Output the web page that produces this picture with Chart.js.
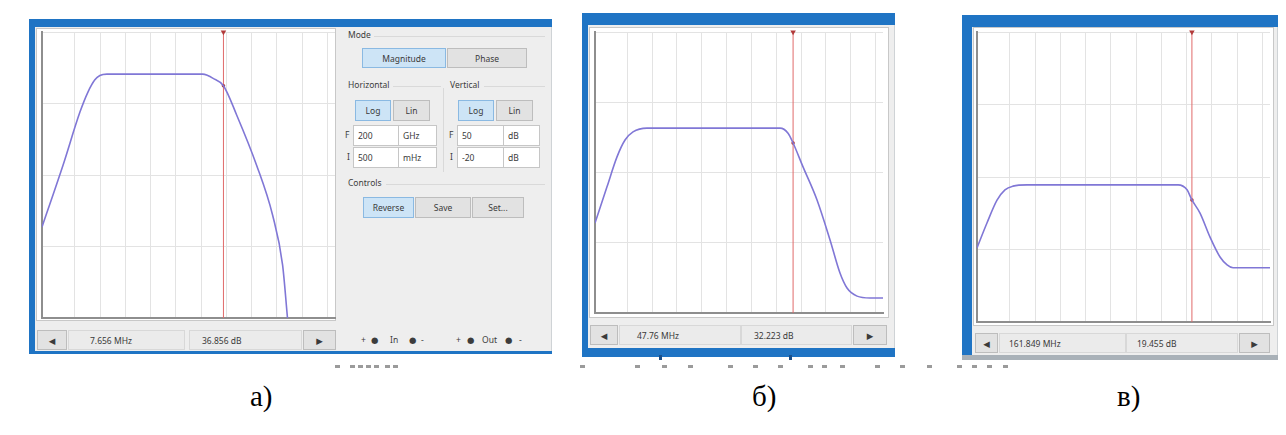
<!DOCTYPE html>
<html>
<head>
<meta charset="utf-8">
<script src="https://cdn.jsdelivr.net/npm/chart.js"></script>
<style>
  body { margin: 0; width: 1286px; height: 435px; background: #fff; position: relative; overflow: hidden; font-family: "Noto Sans", "DejaVu Sans", sans-serif; }
  .box { position: absolute; box-sizing: border-box; }
  .frame { background: #eeeeee; border-right: 1px solid #cfd3d6; }
  .blue { background: #1f74c4; }
  .plot { background: #fff; border: 1px solid #c8c8c8; }
  canvas { position: absolute; }
  .t { position: absolute; font-size: 8.5px; color: #3c3c3c; white-space: nowrap; line-height: 1; }
  .btn { position: absolute; box-sizing: border-box; border: 1px solid #bdbdbd; background: #e2e2e2; font-size: 8.5px; color: #3a3a3a; display: flex; align-items: center; justify-content: center; }
  .btn.on { background: #cde4f6; border-color: #8ab9e2; }
  .inp { position: absolute; box-sizing: border-box; border: 1px solid #c6c6c6; background: #fff; font-size: 8.5px; color: #3a3a3a; display: flex; align-items: center; padding-left: 4px; }
  .fld { position: absolute; box-sizing: border-box; border: 1px solid #d8d8d8; background: #ebebeb; font-size: 8.5px; color: #3a3a3a; display: flex; align-items: center; }
  .line { position: absolute; background: #d9d9d9; }
  .cap { position: absolute; font-family: "Liberation Serif", "DejaVu Serif", serif; font-size: 29px; color: #000; line-height: 1; }
  .scrap { position: absolute; width: 5px; height: 3px; background: #9b9b9b; top: 365px; }
</style>
</head>
<body>

<!-- а) -->
<div class="box frame" style="left:29px;top:19px;width:523px;height:335px;"></div>
<div class="box blue" style="left:29px;top:19px;width:523px;height:8px;"></div>
<div class="box blue" style="left:29px;top:19px;width:6px;height:335px;"></div>
<div class="box blue" style="left:29px;top:351px;width:523px;height:3px;"></div>
<div class="box plot" style="left:36px;top:28px;width:300px;height:293px;"></div>
<canvas id="bodeA" width="301" height="294" style="left:38px;top:28px;"></canvas>

<div class="t" style="left:348px;top:31px;">Mode</div>
<div class="line" style="left:374px;top:36px;width:171px;height:1px;"></div>
<div class="btn on" style="left:362px;top:48px;width:84px;height:20px;">Magnitude</div>
<div class="btn" style="left:447px;top:48px;width:80px;height:20px;">Phase</div>
<div class="t" style="left:348px;top:81px;">Horizontal</div>
<div class="line" style="left:393px;top:86px;width:48px;height:1px;"></div>
<div class="t" style="left:450px;top:81px;">Vertical</div>
<div class="line" style="left:484px;top:86px;width:61px;height:1px;"></div>
<div class="line" style="left:443px;top:88px;width:1px;height:84px;"></div>
<div class="btn on" style="left:355px;top:100px;width:36px;height:21px;">Log</div>
<div class="btn" style="left:393px;top:100px;width:37px;height:21px;">Lin</div>
<div class="btn on" style="left:458px;top:100px;width:36px;height:21px;">Log</div>
<div class="btn" style="left:496px;top:100px;width:37px;height:21px;">Lin</div>
<div class="t" style="left:345px;top:131px;">F</div>
<div class="inp" style="left:353px;top:125px;width:46px;height:21px;">200</div>
<div class="inp" style="left:398px;top:125px;width:39px;height:21px;">GHz</div>
<div class="t" style="left:347px;top:153px;">I</div>
<div class="inp" style="left:353px;top:147px;width:46px;height:21px;">500</div>
<div class="inp" style="left:398px;top:147px;width:39px;height:21px;">mHz</div>
<div class="t" style="left:449px;top:131px;">F</div>
<div class="inp" style="left:457px;top:125px;width:47px;height:21px;">50</div>
<div class="inp" style="left:503px;top:125px;width:37px;height:21px;">dB</div>
<div class="t" style="left:450px;top:153px;">I</div>
<div class="inp" style="left:457px;top:147px;width:47px;height:21px;">-20</div>
<div class="inp" style="left:503px;top:147px;width:37px;height:21px;">dB</div>
<div class="t" style="left:348px;top:179px;">Controls</div>
<div class="line" style="left:386px;top:184px;width:159px;height:1px;"></div>
<div class="btn on" style="left:363px;top:197px;width:51px;height:21px;">Reverse</div>
<div class="btn" style="left:415px;top:197px;width:56px;height:21px;">Save</div>
<div class="btn" style="left:472px;top:197px;width:52px;height:21px;">Set...</div>

<div class="btn" style="left:37px;top:330px;width:30px;height:20px;">&#9664;</div>
<div class="fld" style="left:68px;top:330px;width:117px;height:20px;padding-left:21px;" id="readFA"></div>
<div class="fld" style="left:189px;top:330px;width:113px;height:20px;padding-left:12px;" id="readGA"></div>
<div class="btn" style="left:303px;top:330px;width:33px;height:20px;">&#9654;</div>
<div class="t" style="left:361px;top:336px;">+</div>
<div class="t" style="left:371px;top:336px;">&#9679;</div>
<div class="t" style="left:390px;top:336px;">In</div>
<div class="t" style="left:409px;top:336px;">&#9679;</div>
<div class="t" style="left:421px;top:336px;">-</div>
<div class="t" style="left:456px;top:336px;">+</div>
<div class="t" style="left:467px;top:336px;">&#9679;</div>
<div class="t" style="left:482px;top:336px;">Out</div>
<div class="t" style="left:505px;top:336px;">&#9679;</div>
<div class="t" style="left:519px;top:336px;">-</div>

<!-- б) -->
<div class="box frame" style="left:582px;top:13px;width:313px;height:344px;"></div>
<div class="box blue" style="left:582px;top:13px;width:313px;height:12px;"></div>
<div class="box blue" style="left:582px;top:13px;width:6px;height:344px;"></div>
<div class="box blue" style="left:582px;top:348px;width:313px;height:9px;"></div>
<div class="box" style="left:659px;top:355px;width:3px;height:5px;background:#1a4f8a;"></div>
<div class="box" style="left:789px;top:355px;width:3px;height:5px;background:#1a4f8a;"></div>
<div class="box plot" style="left:589px;top:27px;width:300px;height:291px;"></div>
<canvas id="bodeB" width="296" height="289" style="left:591px;top:28px;"></canvas>
<div class="btn" style="left:590px;top:325px;width:28px;height:20px;">&#9664;</div>
<div class="fld" style="left:619px;top:325px;width:122px;height:20px;padding-left:17px;" id="readFB"></div>
<div class="fld" style="left:741px;top:325px;width:111px;height:20px;padding-left:12px;" id="readGB"></div>
<div class="btn" style="left:853px;top:325px;width:34px;height:20px;">&#9654;</div>

<!-- в) -->
<div class="box frame" style="left:962px;top:15px;width:316px;height:345px;"></div>
<div class="box blue" style="left:962px;top:15px;width:316px;height:12px;"></div>
<div class="box blue" style="left:962px;top:15px;width:10px;height:345px;"></div>
<div class="box" style="left:962px;top:355px;width:316px;height:5px;background:#a9b1b8;"></div>
<div class="box plot" style="left:973px;top:27px;width:301px;height:299px;"></div>
<canvas id="bodeC" width="301" height="298" style="left:973px;top:28px;"></canvas>
<div class="btn" style="left:975px;top:333px;width:23px;height:20px;">&#9664;</div>
<div class="fld" style="left:999px;top:333px;width:127px;height:20px;padding-left:9px;" id="readFC"></div>
<div class="fld" style="left:1126px;top:333px;width:112px;height:20px;padding-left:10px;" id="readGC"></div>
<div class="btn" style="left:1239px;top:333px;width:31px;height:20px;">&#9654;</div>

<div class="cap" style="left:250px;top:382px;">а)</div>
<div class="cap" style="left:752px;top:382px;">б)</div>
<div class="cap" style="left:1117px;top:382px;">в)</div>

<script>
// Горизонталь: I = 500 mHz, F = 200 GHz (Log), сетка по декадам
const freqStartHz = 0.5;
const freqEndHz = 2e11;
const decadeTicksHz = [10, 100, 1e3, 1e4, 1e5, 1e6, 1e7, 1e8, 1e9, 1e10, 1e11];

// Вертикаль (dB) для каждого окна: а, б, в
const dbTop = [50, 50, 60];
const dbBottom = [-20, 5, -10];

// АЧХ а)
const freqA = [0.5, 3.4, 15.9, 33, 62, 98, 185, 1.15e6, 1.82e6, 2.87e6, 7.656e6, 25.5e6, 157e6, 675e6, 1.68e9, 2.63e9];
const gainA = [2.3, 17.4, 30.4, 35.3, 38.3, 39.35, 39.7, 39.7, 39.35, 38.7, 36.856, 29.7, 17.4, 5.2, -7.0, -20];

// АЧХ б)
const freqB = [0.5, 1.52, 3.85, 8.1, 17, 62, 14.2e6, 29.9e6, 47.76e6, 120e6, 440e6, 1.47e9, 3.7e9, 7.1e9, 18e9, 60e9, 2e11];
const gainB = [19.4, 25.2, 30.0, 32.7, 34.0, 34.6, 34.6, 33.8, 32.223, 28.4, 23.1, 16.7, 11.4, 9.0, 7.7, 7.4, 7.4];

// АЧХ в)
const freqC = [0.5, 1.24, 3.1, 6.4, 13.3, 48, 45.7e6, 104e6, 161.849e6, 339e6, 845e6, 2.1e9, 4e9, 6.9e9, 2e11];
const gainC = [7.9, 13.9, 19.4, 21.9, 22.8, 23.1, 23.1, 21.9, 19.455, 16.3, 10.5, 5.7, 3.8, 3.1, 3.1];

// Курсор
const cursorFreq = [7.656e6, 47.76e6, 161.849e6];
const cursorGain = [36.856, 32.223, 19.455];
const readoutFreq = ["7.656 MHz", "47.76 MHz", "161.849 MHz"];
const readoutGain = ["36.856 dB", "32.223 dB", "19.455 dB"];

// обрывки строки под окнами (x)
const scrapX = [335, 350, 358, 366, 374, 385, 393, 580, 635, 662, 688, 728, 753, 778, 808, 822, 840, 875, 900, 927, 957, 972, 987, 1003];

function drawBode(canvasId, freqs, gains, k) {
  const ctx = document.getElementById(canvasId).getContext("2d");
  const top = dbTop[k];
  const bottom = dbBottom[k];
  new Chart(ctx, {
    type: "line",
    data: {
      datasets: [
        {
          data: freqs.map((f, i) => ({ x: f, y: gains[i] })),
          borderColor: "#8077d6",
          borderWidth: 1.6,
          pointRadius: 0,
          cubicInterpolationMode: "monotone",
        },
        {
          data: [
            { x: cursorFreq[k], y: bottom },
            { x: cursorFreq[k], y: cursorGain[k] },
            { x: cursorFreq[k], y: top },
          ],
          borderColor: "#e06a6a",
          borderWidth: 1,
          pointRadius: [0, 1.8, 3.2],
          pointStyle: ["circle", "circle", "triangle"],
          rotation: [0, 0, 180],
          pointBackgroundColor: "#b23a3a",
          pointBorderWidth: 0,
          clip: false,
        },
      ],
    },
    options: {
      responsive: false,
      animation: false,
      devicePixelRatio: 1,
      events: [],
      layout: { padding: 4 },
      plugins: { legend: { display: false }, tooltip: { enabled: false } },
      scales: {
        x: {
          type: "logarithmic",
          min: freqStartHz,
          max: freqEndHz,
          afterBuildTicks: (s) => { s.ticks = decadeTicksHz.map((v) => ({ value: v })); },
          ticks: { display: false },
          grid: { color: "#e3e3e3", drawTicks: false },
          border: { color: "#8e8e8e", width: 2 },
        },
        y: {
          min: bottom,
          max: top,
          afterBuildTicks: (s) => {
            s.ticks = [0, 1, 2, 3, 4].map((j) => ({ value: bottom + ((top - bottom) * j) / 4 }));
          },
          ticks: { display: false },
          grid: { color: "#e3e3e3", drawTicks: false },
          border: { color: "#8e8e8e", width: 2 },
        },
      },
    },
  });
}

window.onload = () => {
  ["A", "B", "C"].forEach((p, k) => {
    document.getElementById("readF" + p).textContent = readoutFreq[k];
    document.getElementById("readG" + p).textContent = readoutGain[k];
  });
  scrapX.forEach((x) => {
    const d = document.createElement("div");
    d.className = "scrap";
    d.style.left = x + "px";
    document.body.appendChild(d);
  });
  drawBode("bodeA", freqA, gainA, 0);
  drawBode("bodeB", freqB, gainB, 1);
  drawBode("bodeC", freqC, gainC, 2);
};
</script>
</body>
</html>
